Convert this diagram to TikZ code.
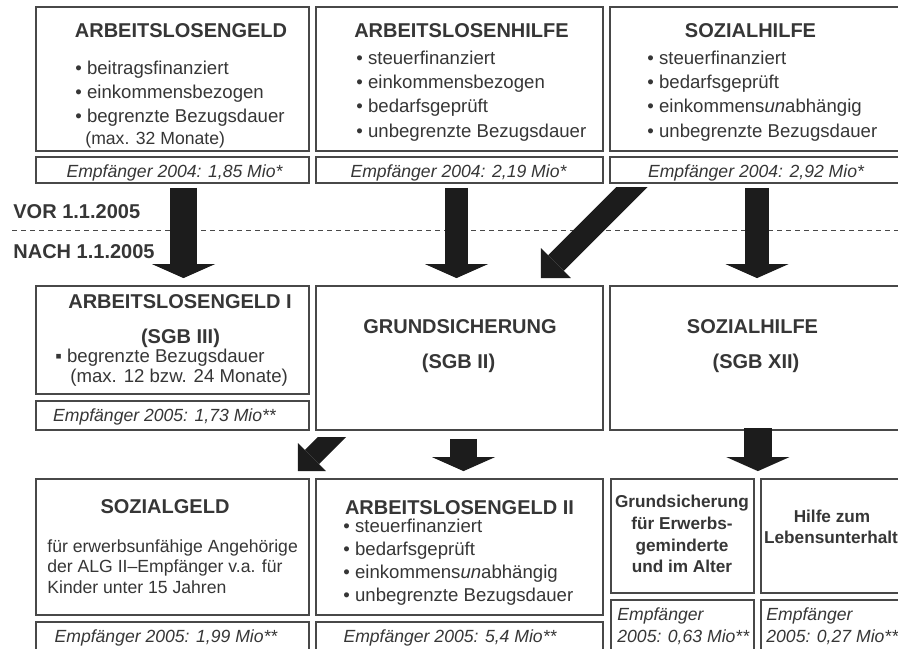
\documentclass[tikz,border=0pt]{standalone}
\usepackage{fontspec}
\setmainfont{Liberation Sans}
\usetikzlibrary{fit,calc,arrows.meta}
\definecolor{txt}{HTML}{363636}
\definecolor{frm}{HTML}{484848}
\definecolor{arr}{HTML}{1C1C1C}

\begin{document}
\begin{tikzpicture}[x=0.5pt, y=-0.5pt,
% frames and texts:
box/.style = {draw=frm, line width=0.9pt, inner sep=0},
foot/.style = {font=\itshape\fontsize{8.8}{10}\selectfont, text=txt, inner sep=0, anchor=base},
head/.style = {font=\bfseries\fontsize{10}{12}\selectfont, text=txt, inner sep=0, anchor=base},
item/.style = {font=\fontsize{9.3}{11}\selectfont, text=txt, inner sep=0, anchor=base west},
boldline/.style = {font=\bfseries\fontsize{8.6}{10}\selectfont, text=txt, inner sep=0, anchor=base},
footline/.style = {font=\itshape\fontsize{8.8}{10}\selectfont, text=txt, inner sep=0, anchor=base west},
% the big arrows:
down/.style = {draw=arr, line width=#1, -{Triangle[length=7pt, width=31.5pt, line width=0pt]}}]
\clip (0,0) rectangle (898,648);
\fill[white] (0,0) rectangle (898,648);

% before 1.1.2005
\node[box, fit={(36,7) (309,151)}] (alg) {};
\node[box, fit={(36,157) (309,183)}] (alg-f) {};
\node[foot] (alg-n) at ($(alg-f.south)+(2,-6)$) {Empfänger 2004: 1,85 Mio*};
\node[head] (alg-t) at (181,37) {ARBEITSLOSENGELD};
\node[item] (alg-1) at (75,74) {\textbullet\ beitragsfinanziert};
\node[item] (alg-2) at (75,98) {\textbullet\ einkommensbezogen};
\node[item] (alg-3) at (75,122) {\textbullet\ begrenzte Bezugsdauer};
\node[item, font=\fontsize{8.8}{10}\selectfont] (alg-4) at (85,144) {(max. 32 Monate)};

\node[box, fit={(316,7) (603,151)}] (alhi) {};
\node[box, fit={(316,157) (603,183)}] (alhi-f) {};
\node[foot] (alhi-n) at ($(alhi-f.south)+(-1,-6)$) {Empfänger 2004: 2,19 Mio*};
\node[head] (alhi-t) at (461.5,37) {ARBEITSLOSENHILFE};
\node[item] (alhi-1) at (356,64) {\textbullet\ steuerfinanziert};
\node[item] (alhi-2) at (356,88) {\textbullet\ einkommensbezogen};
\node[item] (alhi-3) at (356,112) {\textbullet\ bedarfsgeprüft};
\node[item] (alhi-4) at (356,137) {\textbullet\ unbegrenzte Bezugsdauer};

\node[box, fit={(610,7) (902,151)}] (sh) {};
\node[box, fit={(610,157) (902,183)}] (sh-f) {};
\node[foot] (sh-n) at (756,177) {Empfänger 2004: 2,92 Mio*};
\node[head] (sh-t) at (750.5,37) {SOZIALHILFE};
\node[item] (sh-1) at (647,64) {\textbullet\ steuerfinanziert};
\node[item] (sh-2) at (647,88) {\textbullet\ bedarfsgeprüft};
\node[item] (sh-3) at (647,112) {\textbullet\ einkommens\textit{un}abhängig};
\node[item] (sh-4) at (647,137) {\textbullet\ unbegrenzte Bezugsdauer};

% the date line
\draw[frm, line width=0.5pt, dash pattern=on 2.5pt off 2pt] (12,230) -- (898,230);
\node[head, anchor=base west] (vor) at (13,218) {VOR 1.1.2005};
\node[head, anchor=base west] (nach) at (13,258) {NACH 1.1.2005};

% after 1.1.2005
\node[box, fit={(36,286) (309,394)}] (alg1) {};
\node[box, fit={(36,401) (309,430)}] (alg1-f) {};
\node[foot] (alg1-n) at ($(alg1-f.south)+(-8,-9)$) {Empfänger 2005: 1,73 Mio**};
\node[head] (alg1-t) at (180,308) {ARBEITSLOSENGELD I};
\node[head] (alg1-s) at (180.5,343) {(SGB III)};
\node[item] (alg1-1) at (55,362) {▪ begrenzte Bezugsdauer};
\node[item] (alg1-2) at (70,382) {(max. 12 bzw. 24 Monate)};

\node[box, fit={(316,286) (603,430)}] (gs) {};
\node[head] (gs-t) at (460,333) {GRUNDSICHERUNG};
\node[head] (gs-s) at (458.5,368) {(SGB II)};

\node[box, fit={(610,286) (902,430)}] (sh12) {};
\node[head] (sh12-t) at (752.5,333) {SOZIALHILFE};
\node[head] (sh12-s) at (756,368) {(SGB XII)};

% benefits
\node[box, fit={(36,479) (309,615)}] (sozg) {};
\node[box, fit={(36,622) (309,652)}] (sozg-f) {};
\node[foot] (sozg-n) at (166,642) {Empfänger 2005: 1,99 Mio**};
\node[head] (sozg-t) at (165,513) {SOZIALGELD};
\node[item, font=\fontsize{8.8}{10}\selectfont] (sozg-1) at (47,552) {für erwerbsunfähige Angehörige};
\node[item, font=\fontsize{8.8}{10}\selectfont] (sozg-2) at (47,572) {der ALG II–Empfänger v.a. für};
\node[item, font=\fontsize{8.8}{10}\selectfont] (sozg-3) at (47,593) {Kinder unter 15 Jahren};

\node[box, fit={(316,479) (603,615)}] (alg2) {};
\node[box, fit={(316,622) (603,652)}] (alg2-f) {};
\node[foot] (alg2-n) at (450,642) {Empfänger 2005: 5,4 Mio**};
\node[head] (alg2-t) at (459.5,514) {ARBEITSLOSENGELD II};
\node[item] (alg2-1) at (343,532) {\textbullet\ steuerfinanziert};
\node[item] (alg2-2) at (343,555) {\textbullet\ bedarfsgeprüft};
\node[item] (alg2-3) at (343,578) {\textbullet\ einkommens\textit{un}abhängig};
\node[item] (alg2-4) at (343,601) {\textbullet\ unbegrenzte Bezugsdauer};

\node[box, fit={(611,479) (754,593)}] (gse) {};
\node[box, fit={(611,600) (754,652)}] (gse-f) {};
\node[boldline] (gse-1) at (682,507) {Grundsicherung};
\node[boldline] (gse-2) at (682,529) {für Erwerbs-};
\node[boldline] (gse-3) at (682,551) {geminderte};
\node[boldline] (gse-4) at (682,572) {und im Alter};
\node[footline] (gse-f1) at (617,620) {Empfänger};
\node[footline] (gse-f2) at (617,642) {2005: 0,63 Mio**};

\node[box, fit={(761,479) (902,593)}] (hlu) {};
\node[box, fit={(761,600) (902,652)}] (hlu-f) {};
\node[boldline] (hlu-1) at (832,522) {Hilfe zum};
\node[boldline] (hlu-2) at (831,543) {Lebensunterhalt};
\node[footline] (hlu-f1) at (766,620) {Empfänger};
\node[footline] (hlu-f2) at (766,642) {2005: 0,27 Mio**};

% arrows
\draw[down=13.5pt] ($(alg-f.south)+(11,4)$) -- ($(alg1.north)+(11,-7)$);
\draw[down=11.5pt] ($(alhi-f.south)+(-3,4)$) -- ($(gs.north)+(-3,-7)$);
\draw[down=12pt] ($(sh-f.south)+(1,4)$) -- ($(sh12.north)+(1,-7)$);
\begin{scope}
\clip (0,187) rectangle (898,300);
\draw[draw=arr, line width=11pt, -{Triangle[length=10.6pt, width=21.2pt, line width=0pt]}]
  ($(sh-f.south west)+(42,-16)$) -- ($(gs.north east)+(-63,-7)$);
\end{scope}
\draw[down=13.5pt] ($(gs.south)+(4,8)$) -- ($(alg2.north)+(4,-7)$);
\draw[down=14pt] ($(gse.north east)+(3,-50)$) -- ($(gse.north east)+(3,-7)$);
\begin{scope}
\clip (0,437) rectangle (898,480);
\draw[draw=arr, line width=10pt, -{Triangle[length=9.9pt, width=19.8pt, line width=0pt]}]
  ($(gs.south west)+(31,-8)$) -- ($(sozg.north east)+(-12,-7)$);
\end{scope}
\end{tikzpicture}
\end{document}
